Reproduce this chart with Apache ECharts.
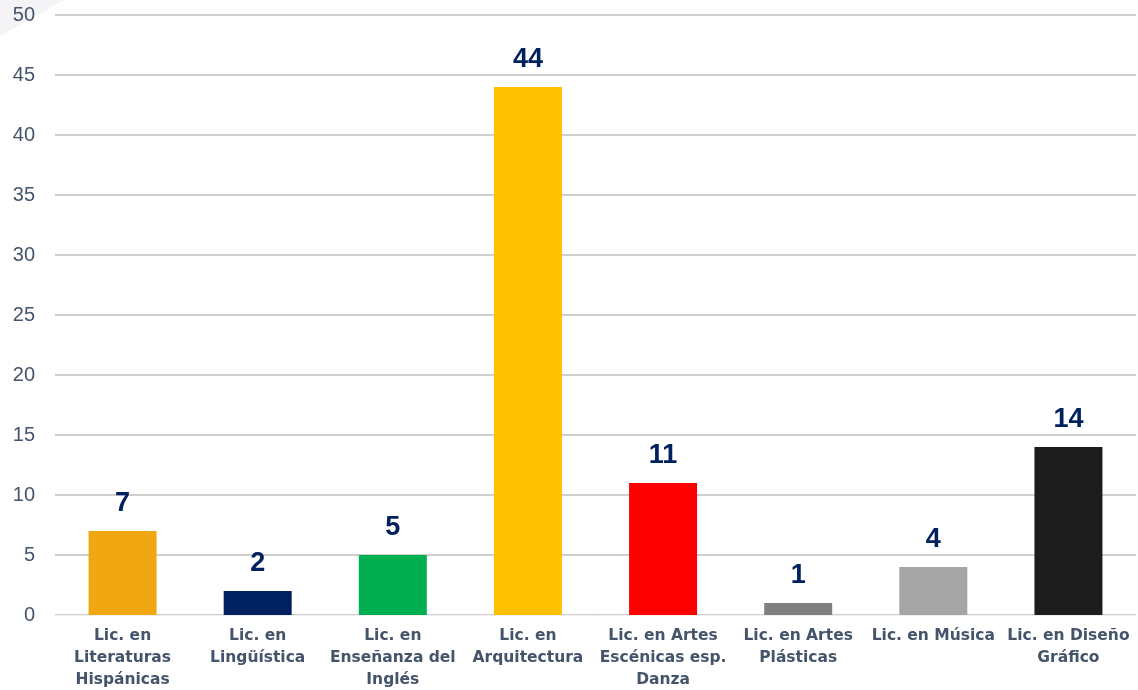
<!DOCTYPE html>
<html>
<head>
<meta charset="utf-8">
<script src="https://cdn.jsdelivr.net/npm/echarts@6/dist/echarts.min.js"></script>
<style>
  html, body { margin: 0; padding: 0; background: #fff; }
  #chart { width: 1138px; height: 690px; }
</style>
</head>
<body>
<div id="chart"></div>
<script>
// carreras y número de alumnos
const categories = [
  "Lic. en\nLiteraturas\nHispánicas",
  "Lic. en\nLingüística",
  "Lic. en\nEnseñanza del\nInglés",
  "Lic. en\nArquitectura",
  "Lic. en Artes\nEscénicas esp.\nDanza",
  "Lic. en Artes\nPlásticas",
  "Lic. en Música",
  "Lic. en Diseño\nGráfico"
];
const values = [7, 2, 5, 44, 11, 1, 4, 14];
const barColors = ["#F0A712", "#002060", "#00B050", "#FFC000", "#FF0000", "#808080", "#A6A6A6", "#1C1C1C"];

const chart = echarts.init(document.getElementById("chart"));
chart.setOption({
  animation: false,
  backgroundColor: "#fff",
  graphic: [
    {
      type: "polygon",
      shape: { points: [[0, 0], [64, 0], [0, 36]] },
      style: { fill: "#F4F4F6" },
      z: -1
    }
  ],
  grid: { left: 55, right: 2, top: 15, bottom: 75, outerBoundsMode: "none", containLabel: false },
  xAxis: {
    type: "category",
    data: categories,
    axisTick: { show: false },
    axisLine: { lineStyle: { color: "#F0F0F0", width: 1 } },
    axisLabel: {
      interval: 0,
      margin: 10,
      color: "#44546A",
      fontFamily: "DejaVu Sans",
      fontWeight: "bold",
      fontSize: 15.5,
      lineHeight: 22
    }
  },
  yAxis: {
    type: "value",
    min: 0,
    max: 50,
    interval: 5,
    axisLine: { show: false },
    axisTick: { show: false },
    splitLine: { lineStyle: { color: "#BFBFBF", width: 1.5 } },
    axisLabel: {
      margin: 20,
      color: "#44546A",
      fontFamily: "Liberation Sans",
      fontSize: 20
    }
  },
  series: [
    {
      type: "bar",
      barWidth: 68,
      data: values.map((v, i) => ({ value: v, itemStyle: { color: barColors[i] } })),
      label: {
        show: true,
        position: "top",
        distance: 14,
        color: "#002060",
        fontFamily: "Liberation Sans",
        fontWeight: "bold",
        fontSize: 27
      }
    }
  ]
});
</script>
</body>
</html>
